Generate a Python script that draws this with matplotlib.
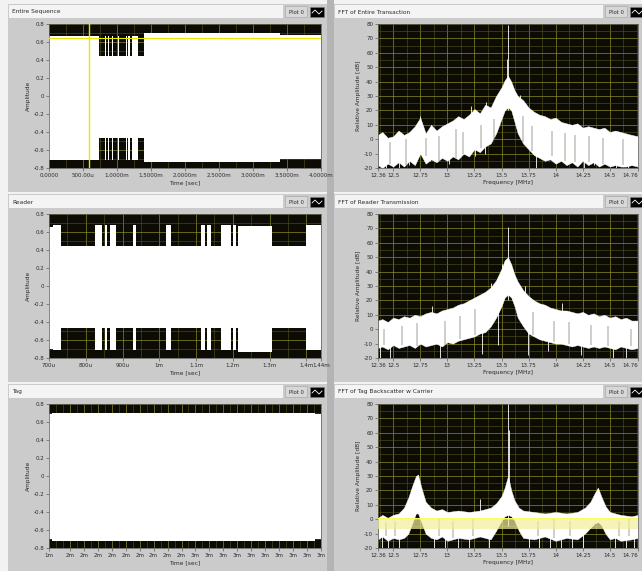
import numpy as np
import matplotlib
matplotlib.use("Agg")
import matplotlib.pyplot as plt
from matplotlib.patches import Rectangle
from matplotlib.lines import Line2D
from matplotlib.ticker import MultipleLocator

W, H = 642, 571

# ---------------- time domain (ms / amplitude) ----------------
# reader ASK pulses (start, end) in ms
reader_pulses = [(0.734, 0.824), (0.843, 0.851), (0.858, 0.867), (0.883, 0.928),
                 (0.938, 1.019), (1.031, 1.113), (1.124, 1.129), (1.140, 1.167),
                 (1.195, 1.201), (1.208, 1.215), (1.308, 1.399)]
pulse_hi, pulse_lo = 0.45, -0.47

# carrier envelope outside pulses: (segment start ms, upper, lower)
seq_levels = [(0.0, 0.67, -0.71), (1.40, 0.70, -0.73), (3.40, 0.68, -0.70)]
reader_levels = [(0.70, 0.66, -0.70), (0.71, 0.68, -0.71), (1.215, 0.67, -0.735), (1.308, 0.68, -0.71)]
tag_levels = [(1.45, 0.69, -0.70), (1.47, 0.70, -0.72), (3.36, 0.69, -0.70)]
cursor_t, cursor_amp = 0.583, 0.645

seq_ticks = [0.0, 0.5, 1.0, 1.5, 2.0, 2.5, 3.0, 3.5, 4.0]
seq_labels = ["0.0000", "500.00u", "1.0000m", "1.5000m", "2.0000m", "2.5000m",
              "3.0000m", "3.5000m", "4.0000m"]
reader_ticks = [0.70, 0.80, 0.90, 1.00, 1.10, 1.20, 1.30, 1.40, 1.44]
reader_labels = ["700u", "800u", "900u", "1m", "1.1m", "1.2m", "1.3m", "1.4m", "1.44m"]
tag_ticks = [1.45, 1.6, 1.7, 1.8, 1.9, 2.0, 2.1, 2.2, 2.3, 2.4, 2.5, 2.6, 2.7,
             2.8, 2.9, 3.0, 3.1, 3.2, 3.3, 3.4]
tag_labels = ["1m", "2m", "2m", "2m", "2m", "2m", "2m", "2m", "2m", "2m",
              "3m", "3m", "3m", "3m", "3m", "3m", "3m", "3m", "3m", "3m"]
amp_ticks = [-0.8, -0.6, -0.4, -0.2, 0.0, 0.2, 0.4, 0.6, 0.8]
amp_labels = ["-0.8", "-0.6", "-0.4", "-0.2", "0", "0.2", "0.4", "0.6", "0.8"]

# ---------------- spectra (MHz / dB) ----------------
freq_ticks = [12.36, 12.5, 12.75, 13.0, 13.25, 13.5, 13.75, 14.0, 14.25, 14.5, 14.76]
freq_labels = ["12.36", "12.5", "12.75", "13", "13.25", "13.5", "13.75", "14",
               "14.25", "14.5", "14.76"]
db_ticks = [-20, -10, 0, 10, 20, 30, 40, 50, 60, 70, 80]
db_labels = ["-20", "-10", "0", "10", "20", "30", "40", "50", "60", "70", "80"]

fft_f = [12.36, 12.40, 12.45, 12.50, 12.55, 12.60, 12.65, 12.70, 12.75, 12.80,
         12.85, 12.90, 12.95, 13.00, 13.05, 13.10, 13.15, 13.20, 13.25, 13.30,
         13.35, 13.40, 13.45, 13.50, 13.53, 13.56, 13.59, 13.62, 13.65, 13.70,
         13.75, 13.80, 13.85, 13.90, 13.95, 14.00, 14.05, 14.10, 14.15, 14.20,
         14.25, 14.30, 14.35, 14.40, 14.45, 14.50, 14.55, 14.60, 14.65, 14.70, 14.76]
entire_hi = [3, 5, 1, 2, 6, 3, 5, 9, 15, 4, 10, 6, 9, 11, 13, 16, 14, 17, 21, 18,
             24, 22, 30, 36, 41, 44, 40, 34, 30, 27, 22, 19, 17, 16, 14, 15, 12, 11,
             10, 11, 8, 9, 8, 7, 8, 5, 6, 5, 4, 3, 2]
entire_lo = [-18, -20, -17, -19, -16, -19, -15, -18, -10, -17, -14, -16, -13, -15,
             -12, -14, -10, -12, -7, -9, -5, -3, 4, 14, 20, 22, 20, 12, 4, -3, -7,
             -11, -13, -15, -14, -17, -15, -18, -16, -19, -15, -18, -16, -19, -17,
             -19, -18, -19, -19, -18, -19]
reader_hi = [6, 7, 5, 8, 7, 9, 8, 10, 9, 11, 12, 11, 13, 14, 15, 17, 18, 20, 22,
             24, 26, 29, 34, 42, 48, 50, 45, 38, 33, 27, 23, 20, 18, 17, 15, 14, 13,
             13, 12, 11, 12, 10, 11, 9, 10, 8, 9, 7, 8, 6, 6]
reader_lo = [-13, -12, -14, -11, -13, -12, -11, -13, -10, -12, -11, -10, -12, -9,
             -10, -8, -7, -6, -5, -3, -2, 2, 8, 16, 22, 24, 22, 16, 8, 2, -3, -5,
             -7, -8, -9, -10, -10, -11, -12, -11, -12, -13, -12, -13, -12, -13,
             -14, -12, -13, -14, -13]

tag_f = [12.36, 12.40, 12.45, 12.50, 12.55, 12.60, 12.64, 12.68, 12.71, 12.73,
         12.76, 12.80, 12.85, 12.90, 12.95, 13.00, 13.10, 13.20, 13.30, 13.40,
         13.45, 13.50, 13.53, 13.56, 13.59, 13.62, 13.66, 13.70, 13.80, 13.90,
         14.00, 14.10, 14.20, 14.27, 14.32, 14.36, 14.39, 14.42, 14.46, 14.50,
         14.55, 14.60, 14.70, 14.76]
tag_hi = [1, 3, 1, 3, 4, 8, 15, 24, 30, 31, 22, 12, 8, 6, 7, 5, 6, 5, 6, 8, 11,
          16, 22, 30, 20, 13, 8, 6, 5, 4, 5, 4, 5, 8, 12, 18, 22, 16, 9, 5, 4, 3, 2, 3]
tag_lo = [-14, -12, -15, -13, -14, -13, -10, -2, 4, 4, -2, -10, -13, -14, -12,
          -15, -13, -14, -12, -14, -8, -1, 2, 3, 2, -1, -8, -13, -14, -12, -15,
          -13, -14, -10, -6, -3, -2, -4, -10, -14, -13, -15, -14, -13]
tag_band = (-6.5, 1.0)

# narrow spectral lines drawn white: (freq, bottom dB, top dB)
entire_spikes = [(13.56, 20, 79), (13.552, 25, 56), (12.75, 0, 16), (13.22, 10, 23),
                 (13.36, 10, 26), (13.67, 15, 31), (12.43, -20, -5), (12.55, -20, -5),
                 (12.65, -18, -5), (12.84, -15, 0), (13.02, -17, 0), (13.26, -12, 0),
                 (13.35, -10, 5), (13.82, -20, 0), (14.02, -15, 0), (14.26, -20, -5),
                 (14.35, -18, -5), (14.56, -20, -5), (14.67, -20, -5)]
reader_spikes = [(13.56, 20, 71), (13.50, 20, 45), (13.47, -11, 20), (12.38, -20, -5),
                 (12.47, -20, -5), (12.93, -20, -5), (13.32, -17, 0), (13.74, -18, 0),
                 (13.93, -15, 0), (14.23, -18, -5), (14.53, -20, -5), (14.65, -20, -5),
                 (13.40, 10, 32), (13.72, 10, 30), (12.86, 0, 16), (14.06, 0, 18)]
tag_spikes = [(13.56, -5, 80), (13.566, 10, 62), (13.30, -10, 14), (12.40, -20, -8),
              (12.45, -20, -8), (12.55, -20, -8), (12.88, -20, -8), (12.98, -20, -8),
              (13.10, -20, -8), (13.20, -20, -8), (13.38, -20, -8), (13.75, -20, -8),
              (13.85, -20, -8), (13.95, -20, -8), (14.05, -20, -8), (14.15, -20, -8),
              (14.25, -20, -8), (14.55, -20, -8), (14.65, -20, -8), (14.72, -20, -8)]
# dark gaps inside the noise band: (freq, bottom dB, top dB)
entire_gaps = [(12.47, -17, -2), (12.62, -18, 0), (12.80, -12, 1), (12.92, -15, 2),
               (13.08, -13, 7), (13.14, -10, 5), (13.31, -6, 10), (13.43, -3, 14),
               (13.70, -2, 16), (13.78, -8, 9), (13.97, -12, 6), (14.09, -15, 4),
               (14.18, -16, 3), (14.31, -16, 2), (14.44, -17, 1), (14.62, -18, 0)]
reader_gaps = [(12.42, -11, 0), (12.58, -11, 2), (12.72, -12, 4), (12.98, -11, 6),
               (13.12, -7, 9), (13.26, -4, 14), (13.79, -4, 12), (13.98, -9, 6),
               (14.12, -10, 5), (14.33, -11, 3), (14.48, -12, 2), (14.70, -12, 0)]
tag_gaps = [(12.43, -12, -2), (12.52, -12, -1), (12.92, -12, 0), (13.05, -13, -1),
            (13.24, -12, 0), (13.84, -12, -1), (13.98, -13, 0), (14.13, -12, -1),
            (14.58, -12, -1), (14.68, -12, 0)]

PLOT_BG = "#0c0c05"
GRID_MAJ = "#8a8a26"
GRID_MIN = "#55551a"
TXT = "#2a2a2a"

fig = plt.figure(figsize=(W / 100, H / 100), dpi=100)
fig.patch.set_facecolor("#f2f2f2")


def px_rect(x, y, w, h, **kw):
    fig.patches.append(Rectangle((x / W, 1 - (y + h) / H), w / W, h / H,
                                 transform=fig.transFigure, zorder=-5, **kw))


def px_text(x, y, s, **kw):
    fig.text(x / W, 1 - y / H, s, color=TXT, **kw)


def panel(col, row, title):
    x0, x1 = (8, 327) if col == 0 else (334, 642)
    strip_end = 283 if col == 0 else 603
    top = 4 + 190 * row
    px_rect(x0, top, x1 - x0, 188, facecolor="#cbcbcb", edgecolor="none")
    px_rect(x0 + 1, top + 1, strip_end - x0 - 1, 13, facecolor="#f4f4f4", edgecolor="none")
    px_text(x0 + 4, top + 8, title, fontsize=4.2, va="center")
    lx = strip_end + 2
    px_rect(lx, top + 2, 22, 11, facecolor="#d8d8d8", edgecolor="#a0a0a0", lw=0.4)
    px_text(lx + 11, top + 8, "Plot 0", fontsize=3.8, ha="center", va="center")
    px_rect(lx + 25, top + 3, 14, 10, facecolor="black", edgecolor="#808080", lw=0.4)
    ix = [lx + 27, lx + 30, lx + 32, lx + 34, lx + 37]
    iy = [top + 9, top + 6, top + 8, top + 10, top + 7]
    fig.lines.append(Line2D([v / W for v in ix], [1 - v / H for v in iy],
                            transform=fig.transFigure, color="white", lw=0.6))


def make_axes(col, row):
    x0, w = (49, 272) if col == 0 else (378, 260)
    y0 = 24 + 190 * row
    ax = fig.add_axes([x0 / W, 1 - (y0 + 144) / H, w / W, 144 / H])
    ax.set_facecolor(PLOT_BG)
    ax.set_axisbelow(True)
    for s in ax.spines.values():
        s.set_color("#555555")
        s.set_linewidth(0.5)
    ax.tick_params(which="major", labelsize=4.0, length=2, width=0.4, pad=1.5,
                   colors="#444444", labelcolor=TXT)
    ax.tick_params(which="minor", length=0)
    ax.grid(which="major", color=GRID_MAJ, lw=0.5)
    ax.grid(which="minor", color=GRID_MIN, lw=0.4)
    return ax


def envelope(levels, pulses, t_end):
    starts = [lv[0] for lv in levels]
    edges = sorted(set(starts) | {p for pr in pulses for p in pr} | {t_end})
    hi, lo = [], []
    for t in edges:
        k = max(np.searchsorted(starts, t, side="right") - 1, 0)
        h, l = levels[k][1], levels[k][2]
        if any(a <= t < b for a, b in pulses):
            h, l = pulse_hi, pulse_lo
        hi.append(h)
        lo.append(l)
    return edges, hi, lo


def time_panel(col, row, title, levels, pulses, xlim, ticks, labels, minor):
    panel(col, row, title)
    ax = make_axes(col, row)
    t, hi, lo = envelope(levels, pulses, xlim[1])
    ax.fill_between(t, lo, hi, step="post", color="white", lw=0, zorder=2)
    ax.set_xlim(*xlim)
    ax.set_ylim(-0.8, 0.8)
    ax.set_xticks(ticks, labels)
    ax.set_yticks(amp_ticks, amp_labels)
    ax.xaxis.set_minor_locator(MultipleLocator(minor))
    ax.yaxis.set_minor_locator(MultipleLocator(0.1))
    ax.set_xlabel("Time [sec]", fontsize=4.2, labelpad=1.5, color=TXT)
    ax.set_ylabel("Amplitude", fontsize=4.2, labelpad=2, color=TXT)
    return ax


def fft_panel(row, title, f, hi, lo, spikes, gaps):
    panel(1, row, title)
    ax = make_axes(1, row)
    ax.fill_between(f, lo, hi, color="white", lw=0.3, zorder=2)
    ax.vlines([g[0] for g in gaps], [g[1] for g in gaps], [g[2] for g in gaps],
              color="#3a3a30", lw=0.35, zorder=2.5)
    ax.vlines([s[0] for s in spikes], [s[1] for s in spikes], [s[2] for s in spikes],
              color="white", lw=0.6, zorder=3)
    ax.set_xlim(12.36, 14.76)
    ax.set_ylim(-20, 80)
    ax.set_xticks(freq_ticks, freq_labels)
    ax.get_xticklabels()[-1].set_horizontalalignment("right")
    ax.set_yticks(db_ticks, db_labels)
    ax.xaxis.set_minor_locator(MultipleLocator(0.125))
    ax.yaxis.set_minor_locator(MultipleLocator(5))
    ax.set_xlabel("Frequency [MHz]", fontsize=4.2, labelpad=1.5, color=TXT)
    ax.set_ylabel("Relative Amplitude [dB]", fontsize=4.2, labelpad=2, color=TXT)
    return ax


# column divider
px_rect(327, 0, 7, H, facecolor="#b4b4b4", edgecolor="none")

ax1 = time_panel(0, 0, "Entire Sequence", seq_levels, reader_pulses, (0.0, 4.0),
                 seq_ticks, seq_labels, 0.25)
ax1.axvline(cursor_t, color="#e6e600", lw=1.0, zorder=4)
ax1.axhline(cursor_amp, color="#e6e600", lw=0.8, zorder=4)

time_panel(0, 1, "Reader", reader_levels, reader_pulses, (0.70, 1.44),
           reader_ticks, reader_labels, 0.05)
time_panel(0, 2, "Tag", tag_levels, [], (1.45, 3.4), tag_ticks, tag_labels, 0.05)

fft_panel(0, "FFT of Entire Transaction", fft_f, entire_hi, entire_lo,
          entire_spikes, entire_gaps)
fft_panel(1, "FFT of Reader Transmission", fft_f, reader_hi, reader_lo,
          reader_spikes, reader_gaps)
ax6 = fft_panel(2, "FFT of Tag Backscatter w Carrier", tag_f, tag_hi, tag_lo,
                tag_spikes, tag_gaps)
ax6.axhspan(tag_band[0], tag_band[1], color="#f3ef9a", alpha=0.7, lw=0, zorder=4)
ax6.axhline(tag_band[1] - 0.5, color="#fbfb60", lw=0.7, zorder=5)

fig.savefig("out.png", dpi=100, facecolor=fig.get_facecolor())
